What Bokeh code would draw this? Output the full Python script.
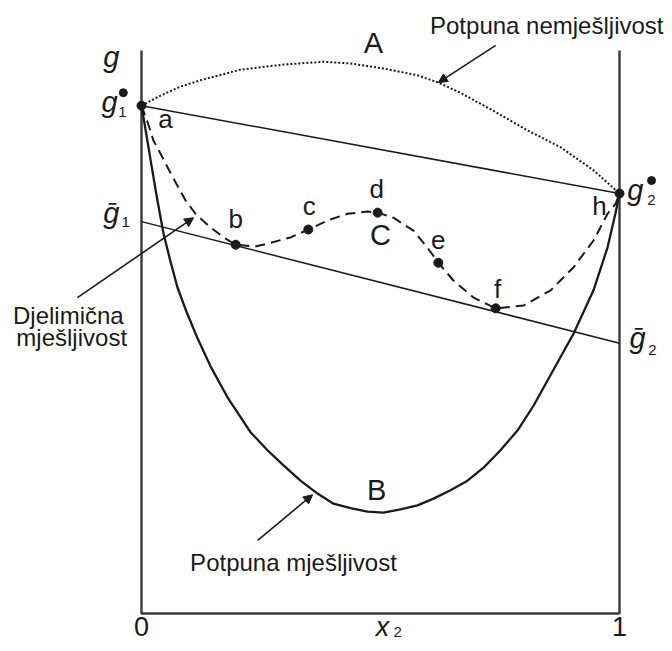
from bokeh.plotting import figure
from bokeh.models import Range1d, Arrow, NormalHead
from bokeh.core.properties import value
from bokeh.embed import file_html
from bokeh.resources import INLINE

# ---------------- data (x2 = mole fraction, g = Gibbs energy, arbitrary units) ----------
AXIS_X = [0, 0, 1, 1]
AXIS_G = [100, 0, 0, 100]

# curve B - complete miscibility
IDEAL_X = [0, 0.0105, 0.0209, 0.0314, 0.0460, 0.0607, 0.0753, 0.0941, 0.1172, 0.1444,
           0.1799, 0.2280, 0.2636, 0.2971, 0.3326, 0.3682, 0.4017, 0.4372, 0.4728,
           0.5063, 0.5418, 0.5774, 0.6109, 0.6464, 0.6820, 0.7155, 0.7510, 0.7866,
           0.8201, 0.8619, 0.9038, 0.9456, 0.9749, 0.9916, 1]
IDEAL_G = [90.2, 84.9, 79.6, 74.3, 67.5, 62.5, 57.9, 53.6, 48.9, 43.9,
           38.4, 32.2, 29.0, 26.3, 23.6, 21.3, 19.5, 18.7, 18.1,
           17.9, 18.5, 19.2, 20.4, 21.9, 23.6, 25.9, 29.0, 32.5,
           36.9, 43.3, 49.7, 57.4, 65.0, 71.1, 74.6]

# curve A - complete immiscibility
IMMISC_X = [0, 0.040, 0.082, 0.123, 0.207, 0.297, 0.381, 0.437, 0.506, 0.577, 0.621,
            0.667, 0.736, 0.808, 0.877, 0.946, 1]
IMMISC_G = [90.2, 92.0, 93.6, 94.7, 96.6, 97.5, 98.0, 97.7, 96.8, 95.6, 94.3,
            92.5, 89.3, 85.8, 82.8, 78.7, 74.6]

# curve C - partial miscibility
PARTIAL_X = [0, 0.013, 0.025, 0.044, 0.061, 0.092, 0.113, 0.144, 0.172, 0.197, 0.238,
             0.264, 0.312, 0.349, 0.389, 0.431, 0.473, 0.494, 0.527, 0.569, 0.598,
             0.621, 0.653, 0.695, 0.741, 0.799, 0.856, 0.904, 0.946, 0.975, 0.992, 1]
PARTIAL_G = [90.2, 87.2, 84.0, 81.0, 78.2, 73.4, 71.0, 68.6, 66.8, 65.5, 65.2,
             65.7, 66.8, 68.2, 69.8, 71.0, 71.4, 71.2, 70.3, 68.0, 65.0,
             62.3, 59.1, 56.1, 54.2, 54.7, 57.4, 61.5, 66.3, 71.0, 72.8, 74.6]

CHORD_X = [0, 1]
CHORD_G = [90.2, 74.6]
TANGENT_X = [0, 1]
TANGENT_G = [69.6, 48.0]

POINT_NAMES = ["a", "b", "c", "d", "e", "f", "h"]
POINT_X = [0, 0.197, 0.349, 0.494, 0.621, 0.741, 1]
POINT_G = [90.2, 65.5, 68.2, 71.2, 62.3, 54.2, 74.6]

X_TICKS = [0, 1]
X_TICK_LABELS = ["0", "1"]

# ---------------- figure ----------------
W, H = 664, 643
G_LO, G_HI = -5.329, 108.88
p = figure(width=W, height=H, output_backend="svg", toolbar_location=None,
           x_range=Range1d(-0.29498, 1.09414), y_range=Range1d(G_LO, G_HI),
           x_axis_location=None, y_axis_location=None, min_border=0)
p.grid.visible = False
p.outline_line_color = None
p.background_fill_color = "white"

FONT = value("Liberation Sans")
INK = "#1a1a1a"
PX_PER_G = H / (G_HI - G_LO)


def lift(gs, size):
    # raise text so its visible baseline lands on the intended position
    return [g + 0.35 * size / PX_PER_G for g in gs]


def label(xs, gs, texts, size, align="center", style="normal"):
    p.text(xs, lift(gs, size), text=texts, text_font=FONT, text_font_size=f"{size}px",
           text_font_style=style, text_align=align, text_baseline="alphabetic",
           text_color=INK)


# frame (axes g and x2)
p.line(AXIS_X, AXIS_G, line_color="#3a3a3a", line_width=2.4)

# curves
p.line(IMMISC_X, IMMISC_G, line_color=INK, line_width=2, line_dash="2 2")
p.line(CHORD_X, CHORD_G, line_color=INK, line_width=1.5)
p.line(TANGENT_X, TANGENT_G, line_color=INK, line_width=1.5)
p.line(IDEAL_X, IDEAL_G, line_color=INK, line_width=2.3, line_join="round")
p.line(PARTIAL_X, PARTIAL_G, line_color=INK, line_width=2, line_dash="10 6",
       line_join="round")
p.scatter(POINT_X, POINT_G, size=9, color=INK)

# point labels
label([0.050, 0.197, 0.351, 0.492, 0.621, 0.745, 0.958],
      [86.3, 68.4, 70.7, 73.7, 64.8, 56.1, 70.7], POINT_NAMES, 26)

# curve labels
label([0.485, 0.492, 0.500], [99.6, 20.1, 65.4], ["A", "B", "C"], 29)

# descriptive labels
label([1.092], [103.0], ["Potpuna nemješljivost"], 24, align="right")
label([-0.153, -0.146], [51.5, 47.6], ["Djelimična", "mješljivost"], 24)
label([0.318], [7.6], ["Potpuna mješljivost"], 24)

# pointer arrows
for xs, gs, xe, ge in [(0.741, 100.9, 0.621, 94.3),
                       (-0.134, 56.1, 0.109, 70.3),
                       (0.243, 13.0, 0.358, 21.1)]:
    p.add_layout(Arrow(x_start=xs, y_start=gs, x_end=xe, y_end=ge, line_color=INK,
                       line_width=1.6,
                       end=NormalHead(size=9, fill_color=INK, line_color=INK)))

# g symbols
label([-0.063, -0.067, -0.063, 1.033, 1.038], [97.0, 89.0, 69.4, 73.4, 47.1],
      ["g", "g", "ḡ", "g", "ḡ"], 29, style="italic")
label([-0.040, -0.033, 1.067, 1.069], [88.1, 68.6, 72.5, 45.8], ["1", "1", "2", "2"], 15)
p.scatter([-0.038, 1.067], [92.5, 76.9], size=8, color=INK)

# x-axis labels
label(X_TICKS, [-4.05, -4.05], X_TICK_LABELS, 27)
label([0.504], [-4.05], ["x"], 27, style="italic")
label([0.536], [-4.3], ["2"], 15)

open("out.html", "w").write(file_html(p, INLINE))
